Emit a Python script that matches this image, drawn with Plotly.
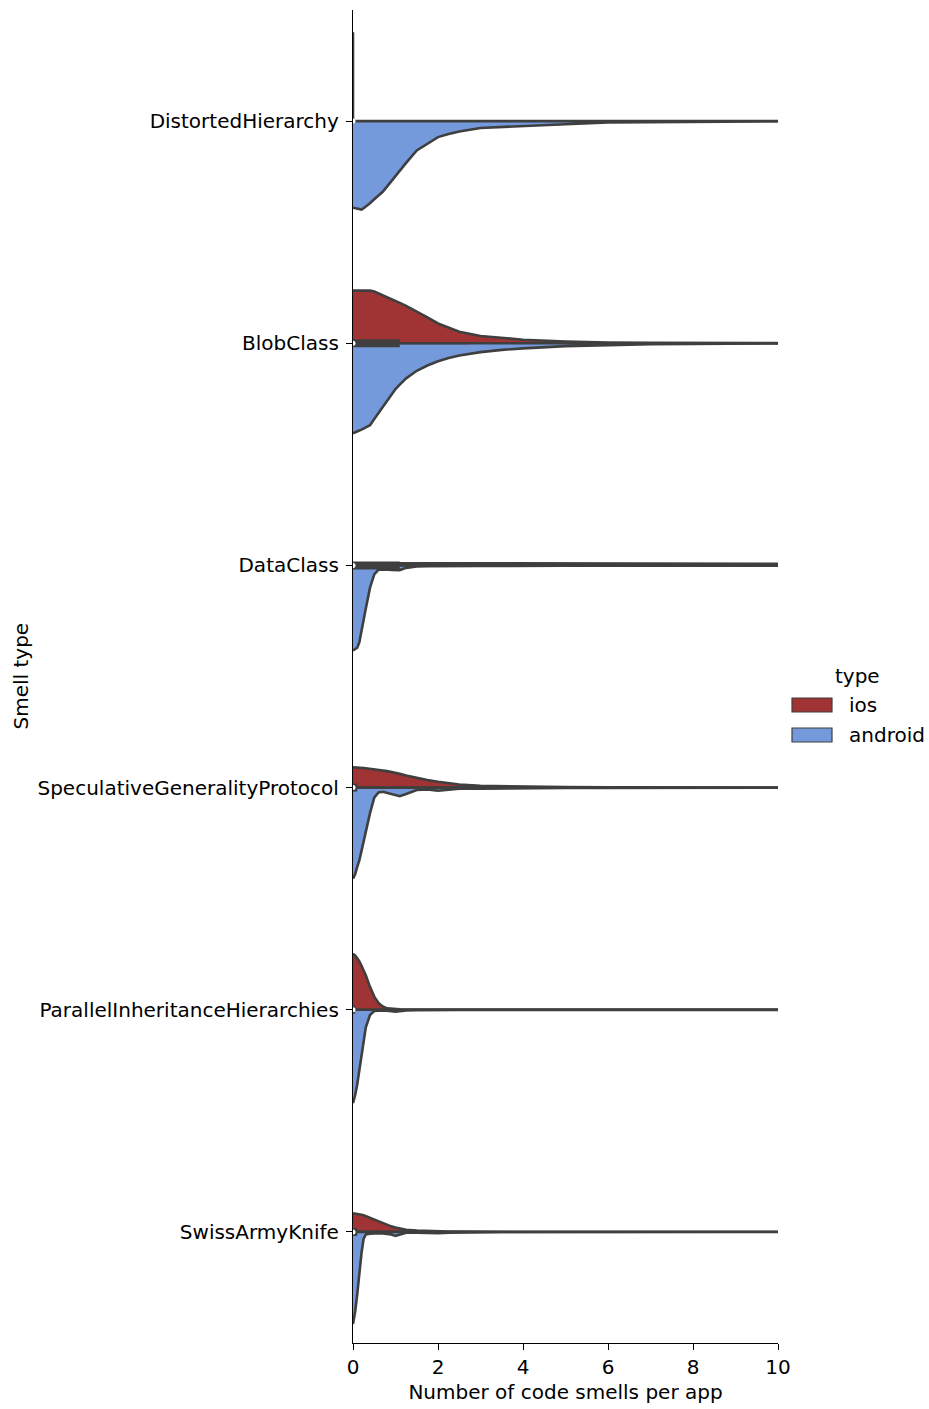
import plotly.graph_objects as go

# ---------------- data ----------------
categories = ["DistortedHierarchy", "BlobClass", "DataClass",
              "SpeculativeGeneralityProtocol", "ParallelInheritanceHierarchies",
              "SwissArmyKnife"]
hues = ["ios", "android"]

# common grid of "number of code smells per app" where density half-widths were read
grid = [0, 0.05, 0.1, 0.15, 0.2, 0.25, 0.3, 0.4, 0.5, 0.6, 0.7, 0.8, 0.9, 1.0, 1.1,
        1.25, 1.5, 1.75, 2.0, 2.25, 2.5, 3.0, 3.5, 4.0, 5.0, 6.0, 7.0, 8.0, 10.0, 11.0]

# half-widths of the violins (in category units) -- ios (upper half), android (lower half)
ios_distorted = None  # all values identical (0): drawn as a single line
android_distorted = [.390, .392, .395, .399, .398, .392, .385, .370, .352, .334, .318, .295, .270, .245, .222,
                     .188, .132, .100, .072, .058, .047, .031, .026, .022, .014, .006, .004, .002, .001, .001]
ios_blob = [.237, .237, .237, .237, .237, .237, .237, .237, .233, .225, .217, .208, .200, .191, .182,
            .168, .144, .117, .089, .069, .052, .033, .023, .016, .008, .003, .002, .001, .0005, .0005]
android_blob = [.405, .400, .397, .393, .389, .384, .378, .369, .341, .313, .285, .257, .230, .206, .186,
                .158, .124, .100, .081, .066, .055, .040, .030, .023, .013, .008, .004, .003, .0015, .001]
ios_data = [.010, .010, .010, .010, .010, .010, .010, .010, .010, .010, .010, .009, .009, .009, .009,
            .009, .009, .009, .008, .008, .008, .008, .008, .008, .008, .007, .007, .007, .007, .007]
android_data = [.383, .378, .370, .345, .300, .253, .195, .100, .040, .019, .017, .018, .020, .022, .021,
                .011, .005, .004, .003, .003, .002, .002, .002, .001, .001, .001, .001, .001, .001, .001]
ios_spec = [.091, .091, .090, .090, .089, .088, .087, .085, .084, .081, .077, .074, .071, .067, .062,
            .054, .043, .034, .026, .019, .014, .008, .006, .003, .002, .001, .001, .0005, .0005, .0005]
android_spec = [.410, .390, .357, .327, .285, .240, .195, .115, .045, .022, .019, .024, .030, .036, .039,
                .029, .011, .008, .014, .010, .005, .005, .004, .002, .002, .002, .001, .001, .0005, .0005]
ios_parallel = [.252, .245, .232, .218, .198, .177, .155, .103, .059, .030, .015, .006, .004, .002, .002,
                .001, .001, .001, .001, .0005, .0005, .0005, .0005, .0005, .0005, .0005, .0005, .0005, .0005, .0005]
android_parallel = [.420, .385, .335, .270, .196, .130, .080, .024, .006, .004, .003, .004, .007, .009, .007,
                    .003, .002, .001, .001, .0005, .0005, .0005, .0005, .0005, .0005, .0005, .0005, .0005, .0005, .0005]
ios_swiss = [.084, .083, .081, .079, .077, .075, .071, .063, .055, .048, .040, .032, .025, .020, .015,
             .010, .006, .004, .003, .002, .002, .001, .0005, .0005, .0005, .0005, .0005, .0005, .0005, .0005]
android_swiss = [.415, .360, .280, .175, .095, .030, .012, .008, .006, .006, .007, .008, .012, .018, .012,
                 .004, .003, .004, .006, .003, .002, .001, .0005, .0005, .0005, .0005, .0005, .0005, .0005, .0005]

ios_widths = [ios_distorted, ios_blob, ios_data, ios_spec, ios_parallel, ios_swiss]
android_widths = [android_distorted, android_blob, android_data, android_spec, android_parallel, android_swiss]
single_value_halfwidth = 0.4  # ios DistortedHierarchy: every value equals 0

# inner box statistics (combined data per smell type)
box_q1 = [0, 0, 0, 0, 0, 0]
box_median = [0, 0, 0, 0, 0, 0]
box_q3 = [0, 1.1, 1.1, 0.1, 0.05, 0.1]

x_ticks = [0, 2, 4, 6, 8, 10]

# ---------------- style ----------------
IOS_COLOR = "#a03434"
ANDROID_COLOR = "#759adc"
EDGE = "#3f3f3f"
FONT = "DejaVu Sans"
FS = 20
W, H = 929, 1409
L, R, T, B = 353, 151, 10, 66
LW = 2.6


def px_x(px):
    return (px - L) / (W - L - R)


def px_y(py):
    return (H - B - py) / (H - T - B)


fig = go.Figure()

for i, cat in enumerate(categories):
    for side, widths, color in ((-1, ios_widths[i], IOS_COLOR), (1, android_widths[i], ANDROID_COLOR)):
        if widths is None:
            fig.add_trace(go.Scatter(
                x=[box_median[i], box_median[i]], y=[i, i + side * single_value_halfwidth],
                mode="lines", line=dict(color=EDGE, width=LW), showlegend=False, hoverinfo="skip"))
            continue
        xs = list(grid) + list(reversed(grid))
        ys = [i + side * w for w in widths] + [i] * len(grid)
        fig.add_trace(go.Scatter(
            x=xs, y=ys, mode="lines", fill="toself", fillcolor=color,
            line=dict(color=EDGE, width=LW), showlegend=False, hoverinfo="skip"))

# inner boxes
for i in range(len(categories)):
    iqr = box_q3[i] - box_q1[i]
    whisk = box_q3[i] + 1.5 * iqr
    fig.add_trace(go.Scatter(x=[box_q1[i], whisk], y=[i, i], mode="lines",
                             line=dict(color=EDGE, width=2.2), showlegend=False, hoverinfo="skip"))
    if iqr > 0:
        fig.add_trace(go.Scatter(x=[box_q1[i], box_q3[i]], y=[i, i], mode="lines",
                                 line=dict(color=EDGE, width=8), showlegend=False, hoverinfo="skip"))
    fig.add_trace(go.Scatter(x=[box_median[i]], y=[i], mode="markers", cliponaxis=False,
                             marker=dict(color="white", size=5, line=dict(width=0)),
                             showlegend=False, hoverinfo="skip"))

# manual legend (seaborn style)
shapes = []
annotations = []
legend_rows = [(705, IOS_COLOR, "ios"), (735, ANDROID_COLOR, "android")]
for cy, color, name in legend_rows:
    shapes.append(dict(type="rect", xref="paper", yref="paper",
                       x0=px_x(792), x1=px_x(832), y0=px_y(cy + 7), y1=px_y(cy - 7),
                       fillcolor=color, line=dict(color=EDGE, width=1.2)))
    annotations.append(dict(text=name, xref="paper", yref="paper", x=px_x(847), y=px_y(cy),
                            xanchor="left", yanchor="middle", showarrow=False,
                            font=dict(family=FONT, size=FS, color="black")))
annotations.append(dict(text="type", xref="paper", yref="paper", x=px_x(857), y=px_y(676),
                        xanchor="center", yanchor="middle", showarrow=False,
                        font=dict(family=FONT, size=FS, color="black")))
annotations.append(dict(text="Smell type", xref="paper", yref="paper", x=px_x(20), y=0.5,
                        xanchor="center", yanchor="middle", textangle=-90, showarrow=False,
                        font=dict(family=FONT, size=FS, color="black")))

fig.update_layout(
    width=W, height=H, margin=dict(l=L, r=R, t=T, b=B),
    plot_bgcolor="white", paper_bgcolor="white",
    font=dict(family=FONT, size=FS, color="black"),
    shapes=shapes, annotations=annotations, showlegend=False,
)
fig.update_xaxes(range=[0, 10], tickvals=x_ticks, ticktext=[str(t) for t in x_ticks],
                 showgrid=False, zeroline=False, showline=True, linecolor="black", linewidth=1.3,
                 ticks="outside", ticklen=6, tickwidth=1.3, tickcolor="black",
                 title=dict(text="Number of code smells per app", standoff=6,
                            font=dict(family=FONT, size=FS, color="black")))
fig.update_yaxes(range=[len(categories) - 0.5, -0.5], tickvals=list(range(len(categories))),
                 ticktext=categories, showgrid=False, zeroline=False, showline=True,
                 linecolor="black", linewidth=1.3, ticks="outside", ticklen=6, tickwidth=1.3,
                 tickcolor="black", ticklabelstandoff=3)

fig.write_html("out.html")
